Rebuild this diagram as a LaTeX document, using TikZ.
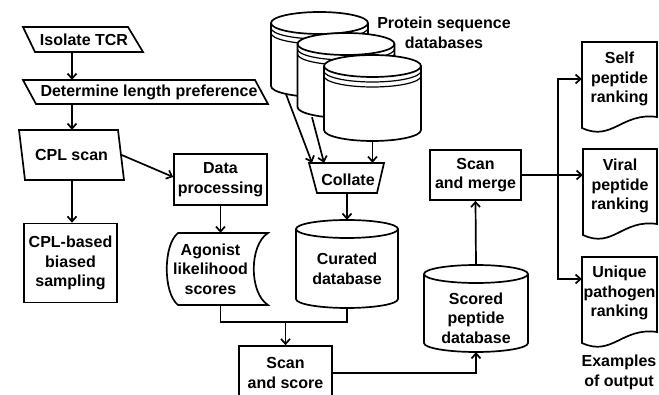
\documentclass[tikz,border=0pt]{standalone}
\usepackage{fontspec}
\setmainfont{Liberation Sans}
\usetikzlibrary{arrows.meta}
\tikzset{
  ln/.style={line width=1.7pt, line join=miter},
  arr/.style={ln, -{Straight Barb[length=5pt,width=9pt]}},
  txt/.style={font=\bfseries\fontsize{16}{19.5}\selectfont, align=center, inner sep=0pt},
  box/.style={txt, draw, ln, fill=white},
  band/.style={line width=1.2pt},
}
% cylinder: cx, top centre y, bottom centre y, rx, ry
\newcommand\mycyl[5]{%
  \filldraw[ln,fill=white] (#1-#4,#2) -- (#1-#4,#3)
     arc[start angle=180,end angle=360,x radius=#4pt,y radius=#5pt]
     -- (#1+#4,#2)
     arc[start angle=0,end angle=180,x radius=#4pt,y radius=#5pt] -- cycle;
  \draw[ln] (#1-#4,#2) arc[start angle=180,end angle=360,x radius=#4pt,y radius=#5pt];}
% banded database cylinder
\newcommand\mydbcyl[5]{%
  \mycyl{#1}{#2}{#3}{#4}{#5}%
  \draw[band] (#1-#4,#2+5) arc[start angle=180,end angle=360,x radius=#4pt,y radius=#5pt];
  \draw[band] (#1-#4,#2+10) arc[start angle=180,end angle=360,x radius=#4pt,y radius=#5pt];}
% document: left, top, right
\newcommand\mydoc[3]{%
  \draw[ln] (#1,#2) -- (#3,#2) -- (#3,#2+75)
     .. controls (#3-35,#2+70) and (#1+30,#2+100) .. (#1,#2+86) -- cycle;}
\begin{document}
\begin{tikzpicture}[x=1pt,y=-1pt]
\useasboundingbox (0,0) rectangle (659,395);

% left column
\draw[ln] (23,27) -- (128,27) -- (143,52) -- (35,52) -- cycle;
\node[txt, minimum width=100, minimum height=25] (isol) at (84,39.5) {Isolate TCR};
\draw[ln] (23,80) -- (255,80) -- (268,104) -- (36,104) -- cycle;
\node[txt, minimum width=220, minimum height=24] (det) at (149,92) {Determine length preference};
\draw[ln] (19,130) -- (118,130) -- (124,180) -- (25,180) -- cycle;
\node[txt, minimum width=100, minimum height=50] (cpl) at (71.5,155) {CPL scan};
\node[box, minimum width=93, minimum height=79] (cplb) at (70.5,263) {CPL-based\\biased\\sampling};
\coordinate (sp) at (72,0);
\draw[arr] (isol.south -| sp) -- (det.north -| sp);
\draw[arr] (det.south -| sp) -- (cpl.north -| sp);
\draw[arr] (cpl.south -| sp) -- (cplb.north -| sp);

% data processing and scores
\node[box, minimum width=93, minimum height=51] (dp) at (220.5,179.5) {Data\\processing};
\draw[arr] (cpl.east) -- ([yshift=2.5pt]dp.west);
\draw[ln,fill=white] (178,233) -- (268,233) .. controls (249,245) and (249,293) .. (268,305)
   -- (178,305) .. controls (163,293) and (163,245) .. (178,233) -- cycle;
\node[txt, minimum height=72] (ag) at (210.5,269) {Agonist\\likelihood\\scores};
\draw[arr] (dp.south) -- (dp.south |- ag.north);

% protein databases
\mydbcyl{319.5}{23}{86}{48.5}{11}
\mydbcyl{346}{44}{107}{48.5}{11}
\mydbcyl{372.5}{66}{130}{48.5}{11}
\node[minimum width=97, minimum height=85, inner sep=0pt] (db1) at (319.5,54.5) {};
\node[minimum width=97, minimum height=85, inner sep=0pt] (db2) at (346,75.5) {};
\node[minimum width=97, minimum height=86, inner sep=0pt] (db3) at (372.5,98) {};
\node[txt] (plbl) at (444,33) {Protein sequence\\databases};

% collate
\draw[ln] (309,163) -- (384,163) -- (377,193) -- (317,193) -- cycle;
\node[txt, minimum width=70, minimum height=30] (col) at (347,178) {};
\node[txt] (collbl) at (348,180) {Collate};
\draw[arr] ([xshift=-33.5pt,yshift=3pt]db1.south) -- ([xshift=-35pt]col.north);
\draw[arr] ([xshift=-34pt,yshift=1pt]db2.south) -- ([xshift=-23pt]col.north);
\draw[arr] (db3.south) -- (db3.south |- col.north);

% curated database
\mycyl{347}{229}{299}{51}{9}
\node[minimum width=102, minimum height=88, inner sep=0pt] (cur) at (347,264) {};
\node[txt] (curlbl) at (347,269) {Curated\\database};
\draw[arr] (col.south) -- (cur.north);

% scan and score
\node[box, minimum width=93, minimum height=54] (sas) at (285.5,373) {Scan\\and score};
\coordinate (j1) at (285.5,322);
\draw[ln] (ag.south -| dp.south) |- (j1) -| (cur.south);
\draw[arr] (j1) -- (sas.north);

% scored database
\mycyl{476}{274}{343}{52}{9}
\node[minimum width=104, minimum height=87, inner sep=0pt] (sc) at (476,308.5) {};
\node[txt] (sclbl) at (476,318) {Scored\\peptide\\database};
\draw[arr] (sas.east) -| (sc.south);

% scan and merge
\node[box, minimum width=91, minimum height=50] (sm) at (475.5,175) {Scan\\and merge};
\draw[arr] (sc.north) -- (sm.south);

% outputs
\mydoc{582}{42}{657}
\mydoc{583}{149}{657}
\mydoc{582}{257}{657}
\node[txt, minimum width=75, minimum height=74] (self) at (619.5,79) {Self\\peptide\\ranking};
\node[txt, minimum width=74, minimum height=74] (vir) at (620,186) {Viral\\peptide\\ranking};
\node[txt, minimum width=75, minimum height=74] (uni) at (619.5,293) {Unique\\pathogen\\ranking};
\node[txt] (ex) at (619,372.5) {Examples\\of output};
\coordinate (tr) at (558,175);
\draw[arr] (sm.east) -- (sm.east -| vir.west);
\draw[arr] (tr) |- (self.west);
\draw[arr] (tr) |- ([yshift=14pt]uni.west);
\end{tikzpicture}
\end{document}
